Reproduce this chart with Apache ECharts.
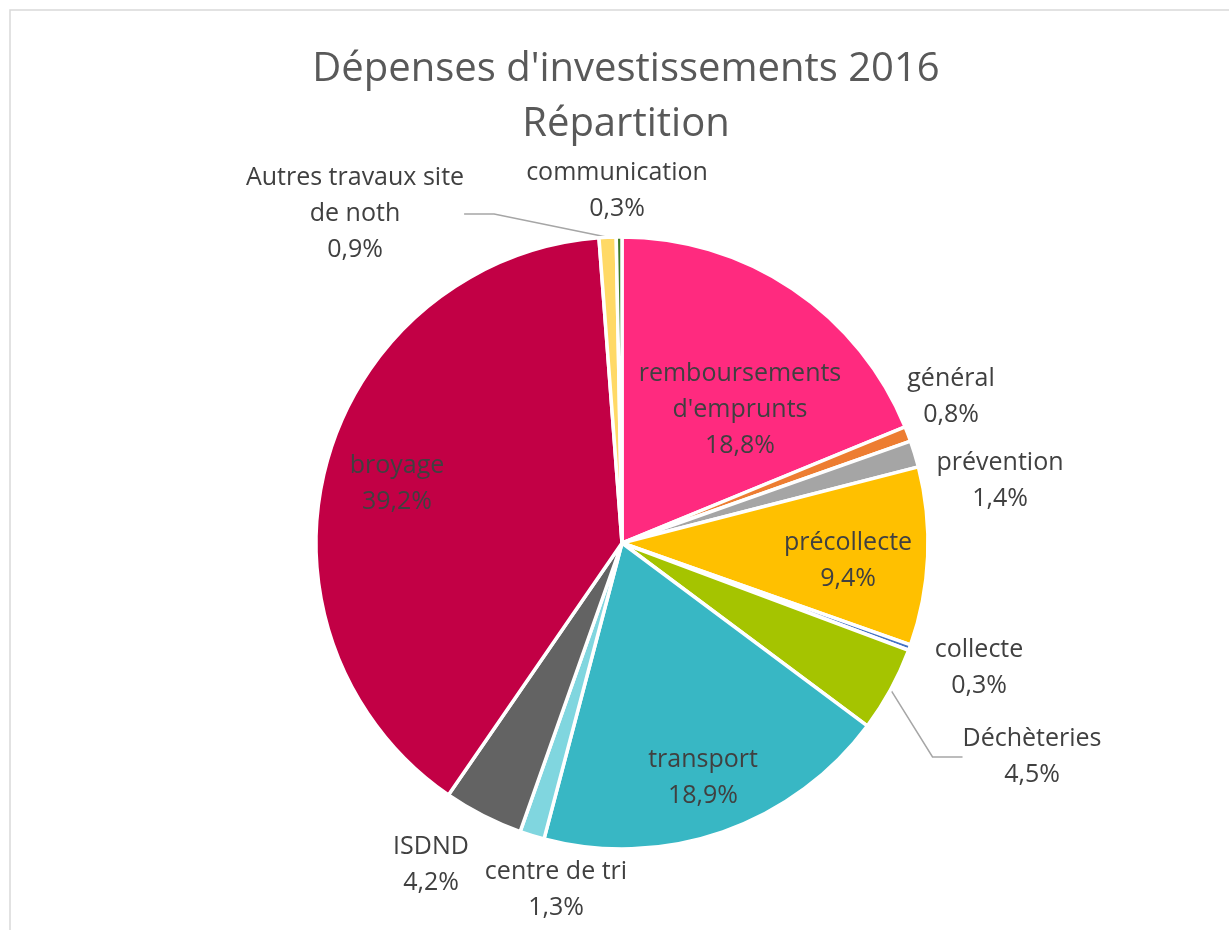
<!DOCTYPE html>
<html>
<head>
<meta charset="utf-8">
<script src="https://cdn.jsdelivr.net/npm/echarts@6/dist/echarts.min.js"></script>
<style>
  html, body { margin: 0; padding: 0; background: #fff; }
  #chart { width: 1229px; height: 930px; }
</style>
</head>
<body>
<div id="chart"></div>
<script>
const categories = [
  "remboursements\nd'emprunts", 'général', 'prévention', 'précollecte', 'collecte',
  'Déchèteries', 'transport', 'centre de tri', 'ISDND', 'broyage',
  'Autres travaux site\nde noth', 'communication'
]
const shares = [18.8, 0.8, 1.4, 9.4, 0.3, 4.5, 18.9, 1.3, 4.2, 39.2, 0.9, 0.3]
const colors = [
  '#FF2A7F', '#ED7D31', '#A5A5A5', '#FFC000', '#4472C4',
  '#A5C400', '#38B7C4', '#80D6DF', '#636363', '#C20045',
  '#FFD966', '#3E7B27'
]

// label centres, in pixels (Excel placed them by hand)
const labelPos = [
  [740, 410], [951, 397], [1000, 481], [848, 561], [979, 668],
  [1032, 757], [703, 778], [556, 890], [431, 865], [397, 484],
  [355, 214], [617, 191]
]
const withLeader = [10, 5]

const chart = echarts.init(document.getElementById('chart'))

const option = {
  backgroundColor: '#fff',
  title: {
    text: "Dépenses d'investissements 2016\nRépartition",
    left: 621,
    top: 37,
    textAlign: 'center',
    textStyle: {
      fontFamily: 'Open Sans',
      fontSize: 40,
      lineHeight: 55,
      fontWeight: 'normal',
      color: '#595959'
    }
  },
  graphic: [{
    type: 'rect',
    shape: { x: 10, y: 10, width: 1240, height: 940 },
    style: { fill: 'none', stroke: '#D9D9D9', lineWidth: 1.5 },
    silent: true
  }],
  series: [{
    type: 'pie',
    center: [622, 543],
    radius: [0, 306],
    startAngle: 90,
    clockwise: true,
    avoidLabelOverlap: false,
    itemStyle: { borderColor: '#fff', borderWidth: 3.5 },
    label: {
      show: true,
      position: 'outside',
      fontFamily: 'Open Sans',
      fontSize: 25,
      lineHeight: 36,
      color: '#404040',
      align: 'center',
      formatter: p => p.name + '\n' + p.value.toFixed(1).replace('.', ',') + '%'
    },
    labelLine: { show: false },
    labelLayout: params => {
      const p = labelPos[params.dataIndex]
      return { x: p[0], y: p[1], align: 'center', verticalAlign: 'middle' }
    },
    data: categories.map((name, i) => ({
      name,
      value: shares[i],
      itemStyle: { color: colors[i] },
      labelLine: withLeader.includes(i)
        ? { show: true, smooth: false, lineStyle: { color: '#A6A6A6', width: 1.5 } }
        : { show: false }
    }))
  }]
}

chart.setOption(option)
window.addEventListener('resize', () => chart.resize())
</script>
</body>
</html>
